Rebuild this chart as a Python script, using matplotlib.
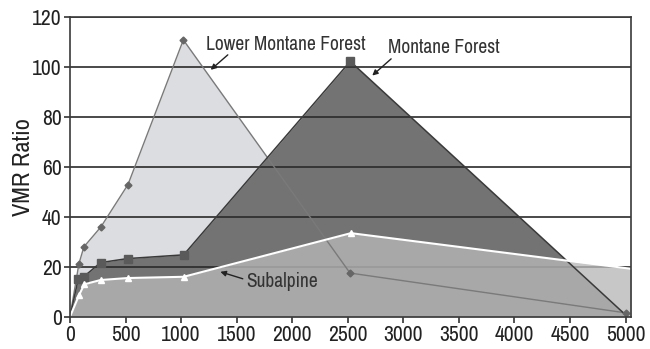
import matplotlib.pyplot as plt
import matplotlib.font_manager as fm

# look for a condensed / narrow sans, like the reference font
cands = []
for f in fm.fontManager.ttflist:
    st = str(f.stretch)
    if f.style != 'normal' or f.weight not in (400, 'normal', 'regular'):
        continue
    if 'Mono' in f.name or 'Serif' in f.name:
        continue
    if st == 'condensed' or 'Condensed' in f.name or 'Narrow' in f.name:
        rank = 0 if st == 'condensed' else 1
        cands.append((rank, f.name, f.fname))
cands.sort()
fpath = cands[0][2] if cands else None


def fp(size):
    if fpath:
        return fm.FontProperties(fname=fpath, size=size)
    return fm.FontProperties(family='Roboto', size=size)


# data
lower_x = [0, 80, 125, 278, 522, 1020, 2520, 5005]
lower_y = [0, 21.2, 28.0, 36.0, 53.0, 111.0, 17.5, 1.5]

montane_x = [0, 75, 123, 275, 518, 1023, 2522, 5005]
montane_y = [0, 15.3, 16.0, 21.7, 23.3, 24.8, 102.4, 0.5]

subalpine_x = [0, 81, 129, 275, 520, 1023, 2528, 5050]
subalpine_y = [0, 8.6, 13.0, 14.7, 15.5, 16.0, 33.5, 19.2]

fig = plt.figure(figsize=(6.5, 3.49), dpi=100)
ax = fig.add_axes([0.1077, 0.0926, 0.971 - 0.1077, 0.950 - 0.0926])

# fills
ax.fill_between(lower_x, lower_y, 0, color='#dcdde0', lw=0, zorder=1)
ax.fill_between(montane_x, montane_y, 0, color='#737373', lw=0, zorder=2)
ax.fill_between(subalpine_x, subalpine_y, 0, color='#b8b8b8', alpha=0.78, lw=0, zorder=3)

# lines + markers
ax.plot(lower_x, lower_y, color='#7a7a7a', lw=1.0, zorder=5)
ax.plot(lower_x[1:], lower_y[1:], ls='none', marker='D', ms=3.5, color='#666666', zorder=6)
ax.plot(montane_x, montane_y, color='#3a3a3a', lw=1.1, zorder=5)
ax.plot(montane_x[1:-1], montane_y[1:-1], ls='none', marker='s', ms=5.5, color='#5a5a5a', zorder=6)
ax.plot(subalpine_x, subalpine_y, color='white', lw=1.5, zorder=5)
ax.plot(subalpine_x[1:-1], subalpine_y[1:-1], ls='none', marker='^', ms=4.5, color='white', zorder=6)

ax.set_xlim(0, 5050)
ax.set_ylim(0, 120)
ax.set_xticks(range(0, 5001, 500))
ax.set_yticks(range(0, 121, 20))
ax.grid(axis='y', color='#2a2a2a', lw=1.2, zorder=4)
ax.set_axisbelow(False)
for s in ax.spines.values():
    s.set_color('#3a3a3a')
    s.set_linewidth(1.2)
    s.set_zorder(7)
ax.tick_params(axis='both', colors='#222222', length=4, width=1.1, pad=2)
for lab in ax.get_xticklabels() + ax.get_yticklabels():
    lab.set_fontproperties(fp(15.5))
ax.set_ylabel('VMR Ratio', fontproperties=fp(17.5), color='#222222')
ax.yaxis.set_label_coords(-0.064, 0.5)

# annotations
arrow = dict(arrowstyle='-|>', color='#222222', lw=1.0, mutation_scale=8, shrinkA=0, shrinkB=0)
ax.annotate('', xy=(1266, 99), xytext=(1420, 105), arrowprops=arrow, zorder=8)
ax.text(1227, 109, 'Lower Montane Forest', fontproperties=fp(14), color='#333333',
        va='center', ha='left', zorder=8)
ax.annotate('', xy=(2720, 96.7), xytext=(2890, 103.4), arrowprops=arrow, zorder=8)
ax.text(2863, 107.8, 'Montane Forest', fontproperties=fp(14), color='#333333',
        va='center', ha='left', zorder=8)
ax.annotate('', xy=(1353, 18), xytext=(1555, 15.2), arrowprops=arrow, zorder=8)
ax.text(1585, 14, 'Subalpine', fontproperties=fp(14), color='#333333',
        va='center', ha='left', zorder=8)

fig.savefig('out.png', dpi=100)
